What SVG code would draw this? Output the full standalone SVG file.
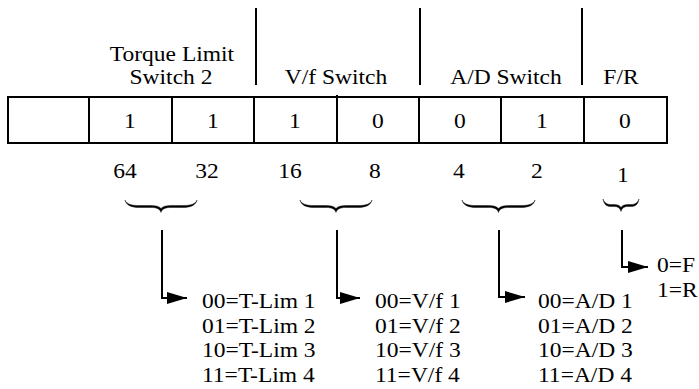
<svg xmlns="http://www.w3.org/2000/svg" width="699" height="389" viewBox="0 0 699 389">
<defs>
<style>
.t{font-family:"Liberation Serif","Times New Roman",serif;font-size:21px;fill:#000;transform-box:fill-box;transform-origin:left center;transform:scaleX(1.12)}
.m{text-anchor:middle;transform-origin:center}
.ln{stroke:#000;stroke-width:2;fill:none}
.br{fill:#000;stroke:#000;stroke-width:0.4}
</style>
<marker id="ah" markerUnits="userSpaceOnUse" markerWidth="22" markerHeight="14" refX="20" refY="7" orient="auto">
<path d="M0,1 L20,7 L0,13 Z" fill="#000"/>
</marker>
</defs>
<rect width="699" height="389" fill="#fff"/>
<g id="header">
<line class="ln" x1="256" y1="8" x2="256" y2="85"/>
<line class="ln" x1="420" y1="8" x2="420" y2="85"/>
<line class="ln" x1="582" y1="8" x2="582" y2="85"/>
<text class="t m" x="172" y="61">Torque Limit</text>
<text class="t m" x="171" y="84">Switch 2</text>
<text class="t m" x="336" y="84">V/f Switch</text>
<text class="t m" x="506" y="84">A/D Switch</text>
<text class="t m" x="621" y="84">F/R</text>
</g>
<g id="register">
<rect class="ln" x="8" y="97" width="659" height="46"/>
<line class="ln" x1="89" y1="97" x2="89" y2="143"/>
<line class="ln" x1="172" y1="97" x2="172" y2="143"/>
<line class="ln" x1="254" y1="97" x2="254" y2="143"/>
<line class="ln" x1="337" y1="95" x2="337" y2="143"/>
<line class="ln" x1="419" y1="97" x2="419" y2="143"/>
<line class="ln" x1="501" y1="97" x2="501" y2="143"/>
<line class="ln" x1="584" y1="97" x2="584" y2="143"/>
<text class="t m" x="130" y="128">1</text>
<text class="t m" x="213" y="128">1</text>
<text class="t m" x="295" y="128">1</text>
<text class="t m" x="378" y="128">0</text>
<text class="t m" x="460" y="128">0</text>
<text class="t m" x="542" y="128">1</text>
<text class="t m" x="625" y="128">0</text>
</g>
<g id="weights">
<text class="t m" x="125" y="178">64</text>
<text class="t m" x="207" y="178">32</text>
<text class="t m" x="290" y="178">16</text>
<text class="t m" x="375" y="178">8</text>
<text class="t m" x="459" y="178">4</text>
<text class="t m" x="537" y="178">2</text>
<text class="t m" x="623" y="182">1</text>
</g>
<g id="braces">
<path class="br" d="M125,200 C126,205 131,207.5 139,207.5 L151,207.5 C157,207.5 160,209 161,212.5 C162,209 165,207.5 171,207.5 L183,207.5 C191,207.5 196,205 197,200 C195.5,204 191,205.5 183,205.5 L171,205.5 C166,205.5 162.5,206.5 161,208.5 C159.5,206.5 156,205.5 151,205.5 L139,205.5 C131,205.5 126.5,204 125,200 Z"/>
<path class="br" d="M300,200 C301,205 306,207.5 314,207.5 L326,207.5 C332,207.5 335,209 336,212.5 C337,209 340,207.5 346,207.5 L358,207.5 C366,207.5 371,205 372,200 C370.5,204 366,205.5 358,205.5 L346,205.5 C341,205.5 337.5,206.5 336,208.5 C334.5,206.5 331,205.5 326,205.5 L314,205.5 C306,205.5 301.5,204 300,200 Z"/>
<path class="br" d="M462,200 C463,205 468,207.5 476,207.5 L488.5,207.5 C494.5,207.5 497.5,209 498.5,212.5 C499.5,209 502.5,207.5 508.5,207.5 L521,207.5 C529,207.5 534,205 535,200 C533.5,204 529,205.5 521,205.5 L508.5,205.5 C503.5,205.5 500,206.5 498.5,208.5 C497,206.5 493.5,205.5 488.5,205.5 L476,205.5 C468,205.5 463.5,204 462,200 Z"/>
<path class="br" d="M603,199 C604,204 606,206.5 611,206.5 L614,206.5 C618,206.5 620,208 621,211.5 C622,208 624,206.5 628,206.5 L631,206.5 C636,206.5 638,204 639,199 C637.5,203 635,204.5 631,204.5 L628,204.5 C624.5,204.5 622,205.5 621,207.5 C620,205.5 617.5,204.5 614,204.5 L611,204.5 C607,204.5 604.5,203 603,199 Z"/>
</g>
<g id="connectors">
<path class="ln" d="M162,230 L162,298 L187,298" marker-end="url(#ah)"/>
<path class="ln" d="M337,230 L337,298 L360,298" marker-end="url(#ah)"/>
<path class="ln" d="M499,230 L499,297 L525,297" marker-end="url(#ah)"/>
<path class="ln" d="M622,230 L622,267 L648,267" marker-end="url(#ah)"/>
</g>
<g id="tlim">
<text class="t" x="202" y="308">00=T-Lim 1</text>
<text class="t" x="202" y="333">01=T-Lim 2</text>
<text class="t" x="202" y="357">10=T-Lim 3</text>
<text class="t" x="202" y="382">11=T-Lim 4</text>
</g>
<g id="vf">
<text class="t" x="375" y="308">00=V/f 1</text>
<text class="t" x="375" y="333">01=V/f 2</text>
<text class="t" x="375" y="357">10=V/f 3</text>
<text class="t" x="375" y="382">11=V/f 4</text>
</g>
<g id="ad">
<text class="t" x="538" y="308">00=A/D 1</text>
<text class="t" x="538" y="333">01=A/D 2</text>
<text class="t" x="538" y="357">10=A/D 3</text>
<text class="t" x="538" y="382">11=A/D 4</text>
</g>
<g id="fr">
<text class="t" x="657" y="272">0=F</text>
<text class="t" x="657" y="297">1=R</text>
</g>
</svg>
